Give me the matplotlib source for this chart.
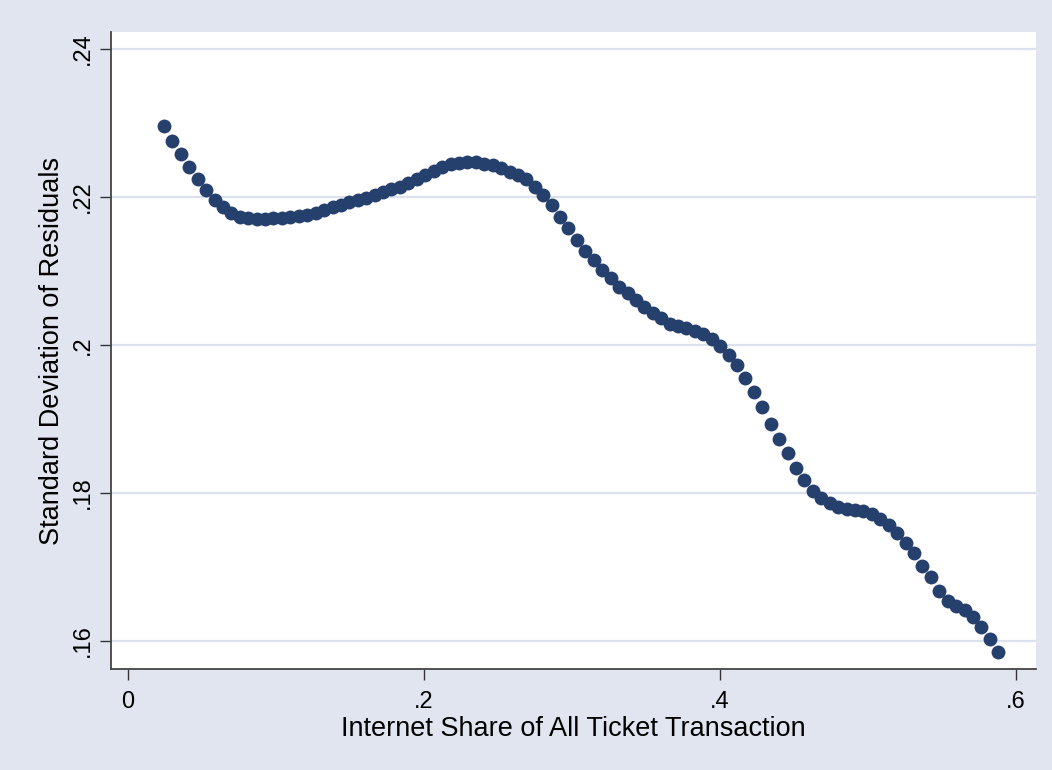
import matplotlib
matplotlib.use("Agg")
import matplotlib.pyplot as plt

# internet share (x) and std. dev. of residuals (y)
share = [0.0243, 0.0300, 0.0357, 0.0414, 0.0471, 0.0528, 0.0585, 0.0642, 0.0699, 0.0755,
         0.0812, 0.0869, 0.0926, 0.0983, 0.1040, 0.1097, 0.1154, 0.1211, 0.1268, 0.1325,
         0.1382, 0.1439, 0.1496, 0.1553, 0.1610, 0.1667, 0.1723, 0.1780, 0.1837, 0.1894,
         0.1951, 0.2008, 0.2065, 0.2122, 0.2179, 0.2236, 0.2293, 0.2350, 0.2407, 0.2464,
         0.2521, 0.2578, 0.2635, 0.2691, 0.2748, 0.2805, 0.2862, 0.2919, 0.2976, 0.3033,
         0.3090, 0.3147, 0.3204, 0.3261, 0.3318, 0.3375, 0.3432, 0.3489, 0.3546, 0.3602,
         0.3659, 0.3716, 0.3773, 0.3830, 0.3887, 0.3944, 0.4001, 0.4058, 0.4115, 0.4172,
         0.4229, 0.4286, 0.4343, 0.4400, 0.4457, 0.4514, 0.4570, 0.4627, 0.4684, 0.4741,
         0.4798, 0.4855, 0.4912, 0.4969, 0.5026, 0.5083, 0.5140, 0.5197, 0.5254, 0.5311,
         0.5368, 0.5425, 0.5481, 0.5538, 0.5595, 0.5652, 0.5709, 0.5766, 0.5823, 0.5880]

sd_resid = [0.2296, 0.2276, 0.2258, 0.2241, 0.2224, 0.2209, 0.2196, 0.2186, 0.2179, 0.2173,
            0.2171, 0.2170, 0.2170, 0.2171, 0.2172, 0.2173, 0.2174, 0.2176, 0.2179, 0.2182,
            0.2186, 0.2189, 0.2193, 0.2196, 0.2199, 0.2203, 0.2207, 0.2211, 0.2214, 0.2219,
            0.2224, 0.2230, 0.2235, 0.2240, 0.2244, 0.2246, 0.2247, 0.2247, 0.2245, 0.2243,
            0.2239, 0.2234, 0.2230, 0.2224, 0.2214, 0.2203, 0.2189, 0.2173, 0.2158, 0.2142,
            0.2127, 0.2115, 0.2101, 0.2090, 0.2079, 0.2070, 0.2061, 0.2052, 0.2043, 0.2036,
            0.2029, 0.2026, 0.2023, 0.2019, 0.2015, 0.2008, 0.1999, 0.1986, 0.1973, 0.1956,
            0.1937, 0.1916, 0.1893, 0.1873, 0.1854, 0.1834, 0.1817, 0.1803, 0.1793, 0.1786,
            0.1781, 0.1779, 0.1777, 0.1776, 0.1771, 0.1765, 0.1757, 0.1746, 0.1733, 0.1719,
            0.1702, 0.1686, 0.1668, 0.1654, 0.1647, 0.1642, 0.1632, 0.1619, 0.1603, 0.1585]

xticks = [0, 0.2, 0.4, 0.6]
xtick_labels = ["0", ".2", ".4", ".6"]
yticks = [0.16, 0.18, 0.20, 0.22, 0.24]
ytick_labels = [".16", ".18", ".2", ".22", ".24"]

plt.rcParams['font.family'] = ['Liberation Sans', 'DejaVu Sans']

bg = '#E1E5F0'
fig = plt.figure(figsize=(10.52, 7.70), dpi=100, facecolor=bg)
ax = fig.add_axes([0.1055, 0.1312, 0.8793, 0.8272])
ax.set_facecolor('white')

ax.set_yticks(yticks)
ax.set_yticklabels(ytick_labels, rotation=90, va='center')
ax.set_xticks(xticks)
ax.set_xticklabels(xtick_labels)
ax.set_xlim(-0.0115, 0.6135)
ax.set_ylim(0.15622, 0.2423)

ax.yaxis.grid(True, color='#DCE1EE', linewidth=1.6)
ax.set_axisbelow(True)

ax.plot(share, sd_resid, 'o', color='#26406E', markersize=10, markeredgewidth=0, zorder=3)

for side in ['top', 'right']:
    ax.spines[side].set_visible(False)
for side in ['left', 'bottom']:
    ax.spines[side].set_color('#444444')
    ax.spines[side].set_linewidth(1.3)

ax.tick_params(direction='out', length=8, width=1, color='#333333', labelsize=17)
ax.tick_params(axis='x', pad=8)
ax.tick_params(axis='y', pad=4)
ax.set_xlabel('Internet Share of All Ticket Transaction', fontsize=19.5, labelpad=2)
ax.set_ylabel('Standard Deviation of Residuals', fontsize=19.5, labelpad=5)

fig.savefig('out.png', dpi=100, facecolor=bg)
